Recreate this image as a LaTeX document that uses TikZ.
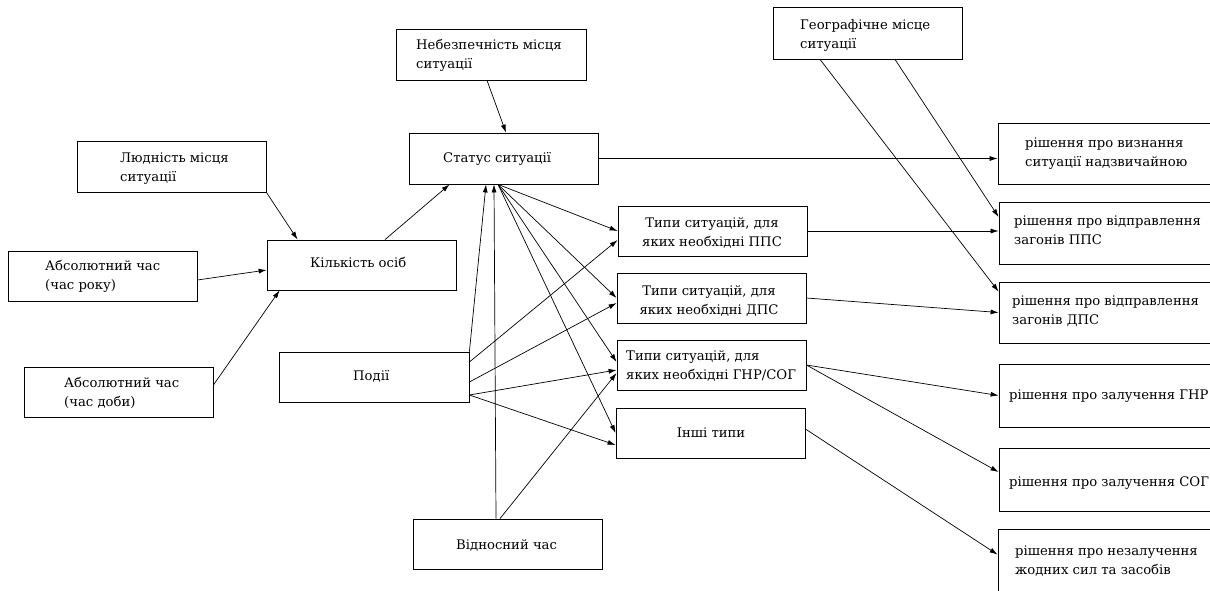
\documentclass[tikz,border=0pt]{standalone}
\usepackage{fontspec}
\newfontfamily\diagfont{DejaVu Serif}
\usetikzlibrary{arrows.meta}
\begin{document}
\begin{tikzpicture}[x=1pt,y=-1pt,
  box/.style 2 args={draw, line width=0.8pt, minimum width=#1pt, minimum height=#2pt, inner sep=0pt},
  txt/.style={inner sep=0pt, font=\diagfont\fontsize{13.2}{19}\selectfont, align=left, anchor=base west},
  ctxt/.style={inner sep=0pt, font=\diagfont\fontsize{13.2}{19}\selectfont, align=center, anchor=base},
  arr/.style={line width=0.7pt, -{Latex[length=8pt,width=5pt]}}]
\useasboundingbox (0,0) rectangle (1210,591);
\fill[white] (0,0) rectangle (1210,591);
\clip (0,0) rectangle (1210,591);

% boxes
\node[box={190}{51}] (neb) at (491,54.5) {};
\node[box={189}{52}] (geo) at (867.5,33) {};
\node[box={189}{51}] (stat) at (503.5,158.5) {};
\node[box={189}{51}] (lyud) at (171.5,166.5) {};
\node[box={189}{50}] (kilk) at (361.5,265) {};
\node[box={189}{50}] (absr) at (102.5,276) {};
\node[box={189}{50}] (absd) at (118.5,392) {};
\node[box={190}{50}] (podii) at (374,377) {};
\node[box={189}{50}] (vidn) at (507.5,544) {};
\node[box={189}{50}] (tpps) at (712.5,231) {};
\node[box={189}{50}] (tdps) at (711.5,298) {};
\node[box={189}{50}] (tgnr) at (711.5,365) {};
\node[box={189}{50}] (inshi) at (710.5,433) {};
\node[box={222}{61}] (rviz) at (1109,153.5) {};
\node[box={221}{62}] (rpps) at (1109.5,233) {};
\node[box={221}{61}] (rdps) at (1109.5,312.5) {};
\node[box={221}{63}] (rgnr) at (1109.5,395.5) {};
\node[box={221}{63}] (rsog) at (1109.5,479.5) {};
\node[box={222}{71}] (rnez) at (1109,564.5) {};

% texts (base anchor = baseline of the last line)
\node[txt] (neb-t) at (416,69) {Небезпечність місця\\ситуації};
\node[txt] (geo-t) at (800,49) {Географічне місце\\ситуації};
\node[txt] (stat-t) at (443,162) {Статус ситуації};
\node[txt] (lyud-t) at (120,181) {Людність місця\\ситуації};
\node[txt] (kilk-t) at (310,267) {Кількість осіб};
\node[txt] (absr-t) at (45,289) {Абсолютний час\\(час року)};
\node[txt] (absd-t) at (64,406) {Абсолютний час\\(час доби)};
\node[txt] (podii-t) at (353,380) {Події};
\node[txt] (vidn-t) at (456,549) {Відносний час};
\node[ctxt] (tpps-t) at (712,246) {Типи ситуацій, для\\яких необхідні ППС};
\node[ctxt] (tdps-t) at (709,314) {Типи ситуацій, для\\яких необхідні ДПС};
\node[txt] (tgnr-t) at (626,379) {Типи ситуацій, для\\яких необхідні ГНР/СОГ};
\node[ctxt] (inshi-t) at (711,437) {Інші типи};
\node[txt] (rviz-t) at (1025,167) {рішення про визнання\\ситуації надзвичайною};
\node[txt] (rpps-t) at (1014,244) {рішення про відправлення\\загонів ППС};
\node[txt] (rdps-t) at (1012,324) {рішення про відправлення\\загонів ДПС};
\node[txt] (rgnr-t) at (1009,399) {рішення про залучення ГНР};
\node[txt] (rsog-t) at (1009,486) {рішення про залучення СОГ};
\node[txt] (rnez-t) at (1015,574) {рішення про незалучення\\жодних сил та засобів};

% connectors, left part
\draw[arr] (lyud.south east) -- ([xshift=31pt]kilk.north west);
\draw[arr] ([yshift=-4pt]absr.east) -- ([yshift=-5pt]kilk.west);
\draw[arr] ([yshift=7pt]absd.east) -- ([xshift=13pt]kilk.south west);
\draw[arr] ([xshift=23.5pt]kilk.north) -- ([xshift=41pt]stat.south west);
\draw[arr] ([xshift=-4pt]neb.south) -- ([xshift=2.5pt]stat.north);

% Status to decision
\draw[arr] (stat.east) -- (stat.east -| rviz.west);

% geographic place
\draw[arr] ([xshift=27.5pt]geo.south) -- ([yshift=16pt]rpps.west);
\draw[arr] ([xshift=-47.5pt]geo.south) -- ([yshift=-10pt]rdps.north west);

% types to decisions
\draw[arr] (tpps.east) -- (tpps.east -| rpps.west);
\draw[arr] (tdps.east) -- (rdps.west);
\draw[arr] (tgnr.east) -- (rgnr.west);
\draw[arr] (tgnr.east) -- ([yshift=7.5pt]rsog.west);
\draw[arr] ([yshift=4pt]inshi.east) -- ([yshift=-26pt]rnez.north west);

% into status
\draw[arr] (podii.north east) -- ([xshift=-17.5pt]stat.south);
\draw[arr] ([xshift=-11.5pt]vidn.north) -- ([xshift=-9.5pt]stat.south);

% status fan
\coordinate (hub) at ([xshift=-5.5pt]stat.south);
\draw[arr] (hub) -- (tpps.west);
\draw[arr] (hub) -- (tdps.west);
\draw[arr] (hub) -- ([yshift=3pt]tgnr.west);
\draw[arr] (hub) -- (inshi.west);

% events fan
\draw[arr] ([yshift=15pt]podii.east) -- ([yshift=-9pt]tpps.west);
\draw[arr] ([yshift=-5pt]podii.east) -- ([yshift=-5pt]tdps.west);
\draw[arr] ([yshift=-18pt]podii.east) -- ([yshift=-5pt]tgnr.west);
\draw[arr] ([yshift=-18pt]podii.east) -- ([yshift=-12pt]inshi.west);

% relative time
\draw[arr] ([xshift=-7.5pt]vidn.north) -- ([yshift=-8pt]tgnr.west);
\end{tikzpicture}
\end{document}
